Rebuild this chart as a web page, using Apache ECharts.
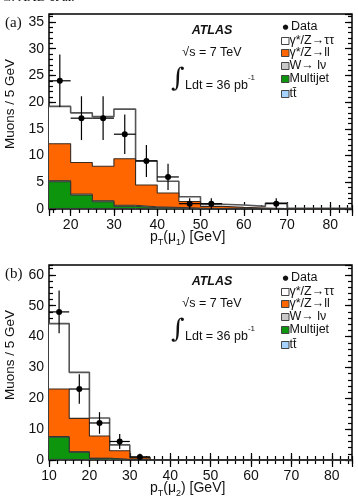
<!DOCTYPE html>
<html>
<head>
<meta charset="utf-8">
<script src="https://cdn.jsdelivr.net/npm/echarts@6/dist/echarts.min.js"></script>
<style>
html,body{margin:0;padding:0;background:#fff;}
#chart{width:358px;height:499px;}
</style>
</head>
<body>
<div id="chart"></div>
<script>
// (a) leading muon pT, 5 GeV bins from 15 to 85
var edgesA    = [15,20,25,30,35,40,45,50,55,60,65,70,75,80,85];
var ttbarA    = [0.1,0.1,0.1,0.1,0.05,0.05,0.05,0.02,0.02,0.02,0,0,0,0];
var multijetA = [5.0,2.5,1.25,0.4,0.2,0.15,0.05,0.05,0.02,0.02,0,0,0,0];
var wlnuA     = [0.2,0.2,0.2,0.2,0.15,0.1,0.05,0.03,0.01,0.01,0,0,0,0];
var zllA      = [6.9,5.9,6.45,8.7,4.1,2.7,1.25,0.4,0.25,0.15,0.1,0.05,0.05,0.05];
var ztautauA  = [7.0,9.3,9.3,9.3,4.5,2.2,0.9,0.4,0.45,0.3,1.0,0.1,0.1,0.1];
var dataXA    = [17.5,22.5,27.5,32.5,37.5,42.5,47.5,52.5,67.5];
var dataYA    = [24,17,17,14,9,6,1,1,1];
var dataErrA  = [4.9,4.1,4.1,3.7,3,2.45,1,1,1];

// (b) second muon pT, 5 GeV bins from 10 to 85
var edgesB    = [10,15,20,25,30,35,40,45,50,55,60,65,70,75,80,85];
var ttbarB    = [0.2,0.1,0.05,0.02,0.01,0,0,0,0,0,0,0,0,0,0];
var multijetB = [7.2,2.4,0.4,0.1,0.05,0,0,0,0,0,0,0,0,0,0];
var wlnuB     = [0.2,0.2,0.15,0.08,0.04,0,0,0,0,0,0,0,0,0,0];
var zllB      = [15.4,10.8,7.2,2.8,0.6,0,0,0,0,0,0,0,0,0,0];
var ztautauB  = [21.2,14.9,5.8,1.9,0.2,0,0,0,0,0,0,0,0,0,0];
var dataXB    = [12.5,17.5,22.5,27.5,32.5];
var dataYB    = [48,23,12,6,1];
var dataErrB  = [6.9,4.8,3.5,2.45,1];

var FONT = 'Liberation Sans';
var colTau = '#ffffff', colLL = '#ff6600', colW = '#c8c8c8', colMJ = '#0d960d', colTT = '#a6d2ff';

function cum(arrs) {
	var out = [];
	for (var i = 0; i < arrs[0].length; i++) {
		var s = 0;
		for (var k = 0; k < arrs.length; k++) s += arrs[k][i];
		out.push(s);
	}
	return out;
}

function stepData(edges, vals) {
	var d = [];
	for (var i = 0; i < vals.length; i++) d.push([edges[i], vals[i]]);
	d.push([edges[edges.length - 1], vals[vals.length - 1]]);
	return d;
}

function makeAxes(g, xmin, xmax, ymax, yMajor, yMinor, hideMinX) {
	var xs = [], ys = [];
	['bottom', 'top'].forEach(function(pos) {
		var labels = pos == 'bottom';
		xs.push({
			type: 'value', gridIndex: g, position: pos, min: xmin, max: xmax,
			minInterval: 10, maxInterval: 10, splitNumber: 7,
			axisLine: {show: false}, splitLine: {show: false},
			axisTick: {inside: true, length: 7, lineStyle: {color: '#000', width: 1.2}},
			axisLabel: {show: labels, margin: 9, fontFamily: FONT, fontSize: 14, color: '#111',
				showMinLabel: !hideMinX, showMaxLabel: false}
		});
		xs.push({
			type: 'value', gridIndex: g, position: pos, min: xmin, max: xmax,
			minInterval: 2, maxInterval: 2, splitNumber: 35,
			axisLine: {show: false}, splitLine: {show: false},
			axisTick: {inside: true, length: 4, lineStyle: {color: '#000', width: 1.2}},
			axisLabel: {show: false}
		});
	});
	['left', 'right'].forEach(function(pos) {
		var labels = pos == 'left';
		ys.push({
			type: 'value', gridIndex: g, position: pos, min: 0, max: ymax, interval: yMajor,
			axisLine: {show: false}, splitLine: {show: false},
			axisTick: {inside: true, length: 7, lineStyle: {color: '#000', width: 1.2}},
			axisLabel: {show: labels, margin: 5, fontFamily: FONT, fontSize: 14, color: '#111', showMaxLabel: false}
		});
		ys.push({
			type: 'value', gridIndex: g, position: pos, min: 0, max: ymax, interval: yMinor,
			axisLine: {show: false}, splitLine: {show: false},
			axisTick: {inside: true, length: 4, lineStyle: {color: '#000', width: 1.2}},
			axisLabel: {show: false}
		});
	});
	return {x: xs, y: ys};
}

function makeSeries(g, edges, tt, mj, w, ll, tau, dx, dy, de) {
	var xi = 4 * g, yi = 4 * g;
	var levels = [
		{v: cum([tt, mj, w, ll, tau]), c: colTau, lc: '#555', lw: 1.6},
		{v: cum([tt, mj, w, ll]), c: colLL, lc: '#3a2a20', lw: 1.1},
		{v: cum([tt, mj, w]), c: colW, lc: '#333', lw: 1},
		{v: cum([tt, mj]), c: colMJ, lc: '#333', lw: 1},
		{v: cum([tt]), c: colTT, lc: '#333', lw: 1}
	];
	var s = levels.map(function(l, i) {
		return {
			type: 'line', xAxisIndex: xi, yAxisIndex: yi, step: 'end', symbol: 'none',
			data: stepData(edges, l.v), z: 2 + i,
			lineStyle: {color: l.lc, width: l.lw},
			areaStyle: {color: l.c, opacity: 1},
			silent: true
		};
	});
	var pts = dx.map(function(x, i) { return [x, dy[i], de[i]]; });
	s.push({
		type: 'custom', xAxisIndex: xi, yAxisIndex: yi, z: 10,
		data: pts,
		encode: {x: 0, y: 1},
		renderItem: function(params, api) {
			var x = api.value(0), y = api.value(1), e = api.value(2);
			var c = api.coord([x, y]);
			var t = api.coord([x, y + e]);
			var b = api.coord([x, Math.max(0, y - e)]);
			var l = api.coord([x - 2.5, y]);
			var r = api.coord([x + 2.5, y]);
			var st = {stroke: '#000', lineWidth: 1.2};
			return {
				type: 'group',
				children: [
					{type: 'line', shape: {x1: t[0], y1: t[1], x2: b[0], y2: b[1]}, style: st},
					{type: 'line', shape: {x1: l[0], y1: l[1], x2: r[0], y2: r[1]}, style: st},
					{type: 'circle', shape: {cx: c[0], cy: c[1], r: 3}, style: {fill: '#000'}}
				]
			};
		}
	});
	return s;
}

function panelText(dy, tag, muIdx) {
	var items = [];
	var txt = function(x, y, str, opt) {
		var st = {text: str, fill: '#111', font: '12px "' + FONT + '"', textAlign: 'left', textVerticalAlign: 'middle'};
		for (var k in opt) st[k] = opt[k];
		items.push({type: 'text', x: x, y: y + dy, style: st, z: 100});
	};
	txt(5, 23, tag, {font: '15px "Liberation Serif"'});
	txt(212, 31, 'ATLAS', {font: 'italic bold 12.5px "' + FONT + '"', textAlign: 'center'});
	txt(212, 53, '\u221As = 7 TeV', {font: '12.5px "' + FONT + '"', textAlign: 'center'});
	txt(171, 79, '\u222B', {font: '26px "DejaVu Serif"'});
	items.push({
		type: 'text', x: 185, y: 74 + dy, z: 100,
		style: {
			text: '{m|Ldt = 36 pb}{s|-1}', fill: '#111',
			rich: {
				m: {fontFamily: FONT, fontSize: 12.5, padding: [5, 0, 0, 0], verticalAlign: 'top'},
				s: {fontFamily: FONT, fontSize: 8, verticalAlign: 'top'}
			}
		}
	});
	// legend
	txt(282.5, 27, '\u25CF', {font: '7px "DejaVu Sans"'});
	txt(291, 27, 'Data', {font: '12.5px "' + FONT + '"'});
	var leg = [
		[41, colTau, '\u03B3*/Z\u2192\u03C4\u03C4'],
		[53, colLL, '\u03B3*/Z\u2192ll'],
		[66, colW, 'W\u2192 l\u03BD'],
		[79, colMJ, 'Multijet'],
		[94, colTT, 't\u0074\u0304']
	];
	leg.forEach(function(e) {
		items.push({type: 'rect', shape: {x: 281.5, y: e[0] - 3.5 + dy, width: 7.5, height: 7},
			style: {fill: e[1], stroke: '#444', lineWidth: 1}, z: 100});
		txt(289.5, e[0], e[2], {font: '12.5px "' + FONT + '"'});
	});
	// axis titles
	items.push({
		type: 'text', x: 150, y: 230 + dy, z: 100,
		style: {
			text: '{m|p}{s|T}{m|(\u03BC}{s|' + muIdx + '}{m|) [GeV]}', fill: '#111',
			rich: {
				m: {fontFamily: FONT, fontSize: 14, verticalAlign: 'top'},
				s: {fontFamily: FONT, fontSize: 9, padding: [8, 0, 0, 0], verticalAlign: 'top'}
			}
		}
	});
	items.push({
		type: 'text', x: 10, y: 104 + dy, rotation: Math.PI / 2, z: 100,
		style: {text: 'Muons / 5 GeV', fill: '#111', font: '13.5px "' + FONT + '"', textAlign: 'center', textVerticalAlign: 'middle'}
	});
	return items;
}

var axA = makeAxes(0, 15, 85, 36.5, 5, 1, true);
var axB = makeAxes(1, 10, 85, 63.2, 10, 2, false);

var graphics = [{
	type: 'text', x: 2, y: 4, z: 100,
	style: {text: 'G. AAD et al.', fill: '#111', font: '13px "Liberation Serif"', textVerticalAlign: 'bottom'}
}].concat(panelText(0, '(a)', 1), panelText(251, '(b)', 2));

var option = {
	backgroundColor: '#fff',
	animation: false,
	grid: [
		{left: 49, right: 6, top: 14, height: 195, show: true, borderColor: '#000', borderWidth: 1.5},
		{left: 49, right: 6, top: 265, height: 195, show: true, borderColor: '#000', borderWidth: 1.5}
	],
	xAxis: axA.x.concat(axB.x),
	yAxis: axA.y.concat(axB.y),
	series: makeSeries(0, edgesA, ttbarA, multijetA, wlnuA, zllA, ztautauA, dataXA, dataYA, dataErrA)
		.concat(makeSeries(1, edgesB, ttbarB, multijetB, wlnuB, zllB, ztautauB, dataXB, dataYB, dataErrB)),
	graphic: graphics
};

var myChart = echarts.init(document.getElementById('chart'));
myChart.setOption(option);
</script>
</body>
</html>
